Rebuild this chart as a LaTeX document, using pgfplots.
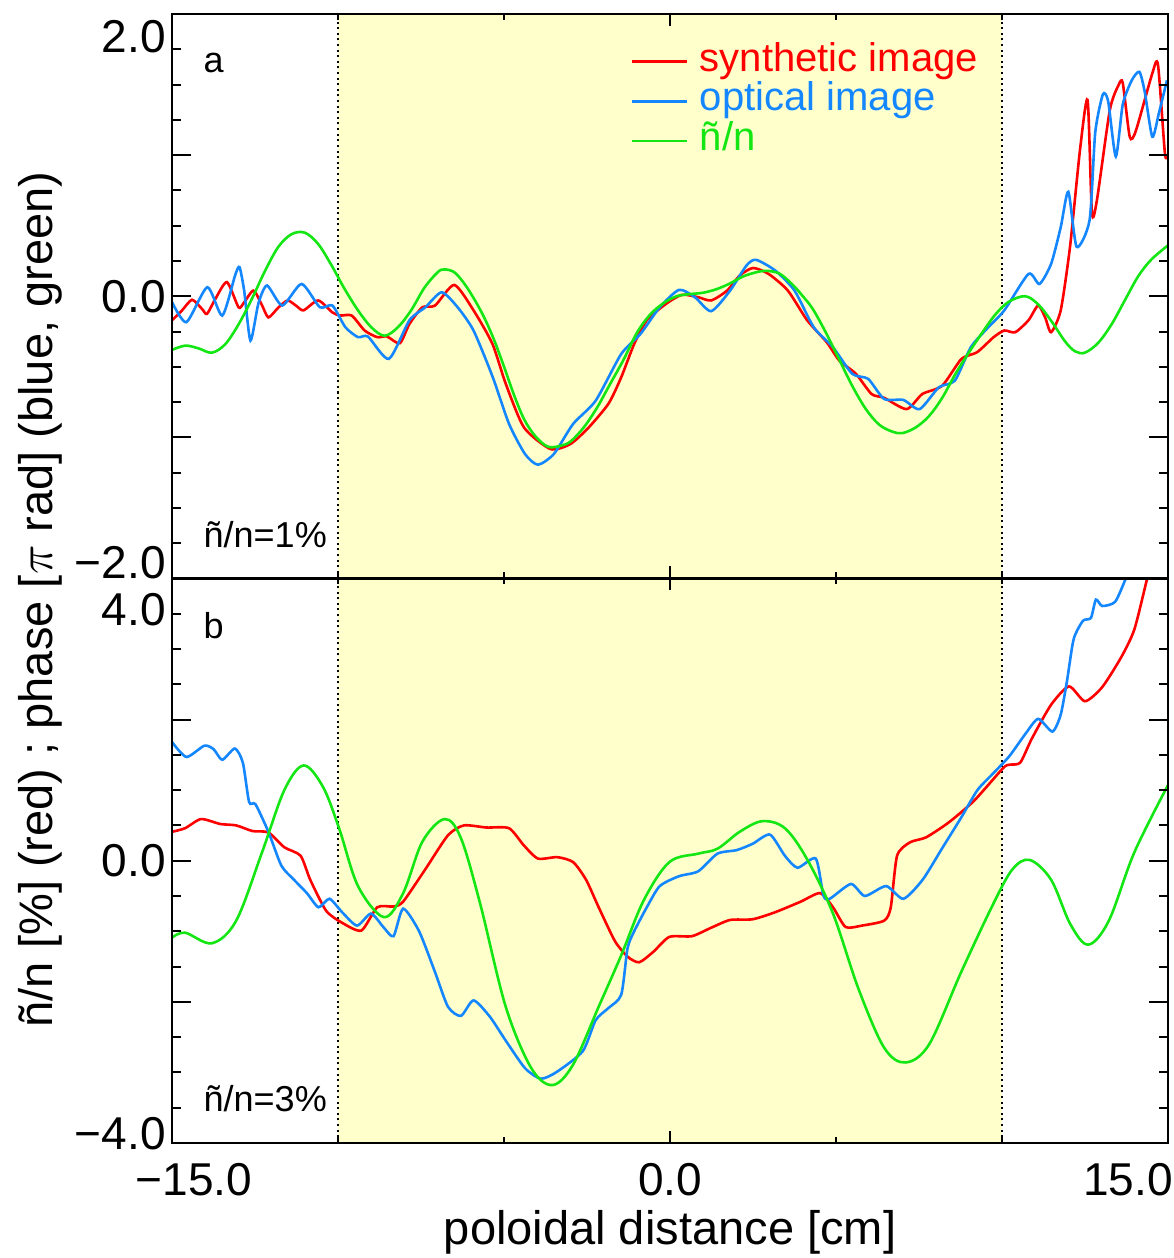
\documentclass[border=0pt]{standalone}
\usepackage{fontspec}
\setmainfont{Liberation Sans}
\usepackage{pgfplots}
\pgfplotsset{compat=1.18}
\definecolor{cred}{RGB}{255,0,0}
\definecolor{cblue}{RGB}{20,135,255}
\definecolor{cgreen}{RGB}{20,230,20}
\definecolor{shade}{RGB}{255,255,204}
\newcommand{\tickfont}{\fontsize{23}{23}\selectfont}
\newcommand{\labfont}{\fontsize{23.5}{28}\selectfont}
\newcommand{\panfont}{\fontsize{18}{20}\selectfont}
\pgfplotsset{
  panel/.style={
    scale only axis, width=497.5pt, height=282pt,
    xmin=-15, xmax=15,
    axis on top,
    axis line style={line width=1.2pt},
    tick align=inside,
    tick style={line width=1pt, black},
    xtick={-15,0,15}, minor xtick={-10,-5,5,10},
    xtick style={/pgfplots/major tick length=6pt,/pgfplots/minor tick length=3pt},
    ytick style={/pgfplots/major tick length=9.5pt,/pgfplots/minor tick length=4.5pt},
    yticklabel style={font=\tickfont, inner sep=0pt, xshift=-3pt},
    xticklabel style={font=\tickfont, inner sep=0pt, yshift=-10pt},
  },
  curve/.style={line width=1.3pt, smooth, tension=0.4},
  gcurve/.style={line width=1.3pt, smooth, tension=0.55},
}
\begin{document}
\begin{tikzpicture}
%---------------- panel a
\begin{axis}[panel, name=top, at={(0,282pt)}, anchor=south west,
  ymin=-2, ymax=2, ytick={-2,-1,0,1,2},
  yticklabels={\raisebox{8pt}[\height][\depth]{−2.0},,0.0,,\raisebox{-11.5pt}[\height][\depth]{2.0}},
  minor ytick={-1.75,-1.5,-1.25,-0.75,-0.5,-0.25,0.25,0.5,0.75,1.25,1.5,1.75},
  xticklabels={},
  legend style={at={(0.461,0.9504)}, anchor=north west, draw=none, fill=none,
    inner sep=0pt, outer sep=0pt, row sep=0pt,
    nodes={inner sep=0pt, text height=14.5pt, text depth=5.25pt},
    /tikz/every odd column/.append style={column sep=6pt},
    font=\fontsize{20}{20}\selectfont},
  legend cell align=left,
  legend image code/.code={\draw[#1, line width=1.3pt] (0pt,0pt) -- (27pt,0pt);},
]
\addplot[draw=none, fill=shade, forget plot] coordinates {(-10,-2) (10,-2) (10,2) (-10,2)} -- cycle;
\addplot[black, line width=0.9pt, dash pattern=on 1pt off 1.8pt, forget plot] coordinates {(-10,-2) (-10,2)};
\addplot[black, line width=0.9pt, dash pattern=on 1pt off 1.8pt, forget plot] coordinates {(10,-2) (10,2)};
% synthetic image (red)
\addplot[cred, curve] coordinates {
(-15.0,-0.17) (-14.7,-0.10) (-14.4,-0.025) (-14.1,-0.09) (-13.95,-0.125) (-13.7,-0.02)
(-13.35,0.10) (-13.0,-0.078) (-12.85,-0.05) (-12.55,0.04) (-12.3,-0.06) (-12.1,-0.15)
(-11.8,-0.08) (-11.52,-0.03) (-11.25,-0.07) (-11.04,-0.10) (-10.6,-0.03) (-10.17,-0.115)
(-9.94,-0.137) (-9.59,-0.137) (-9.2,-0.243) (-8.82,-0.29) (-8.53,-0.285) (-8.14,-0.333)
(-7.85,-0.196) (-7.46,-0.078) (-7.08,-0.066) (-6.5,0.08) (-5.92,-0.10) (-5.35,-0.338)
(-4.95,-0.62) (-4.4,-0.93) (-3.6,-1.083) (-3.0,-1.047) (-2.45,-0.93) (-1.85,-0.76)
(-1.47,-0.574) (-1.08,-0.338) (-0.7,-0.17) (-0.12,-0.054) (0.36,0.01) (0.85,-0.007)
(1.24,-0.03) (1.72,0.04) (2.1,0.147) (2.5,0.20) (2.97,0.158) (3.55,0.04) (4.13,-0.17)
(4.72,-0.326) (5.1,-0.456) (5.6,-0.55) (6.07,-0.693) (6.45,-0.72) (7.13,-0.80) (7.6,-0.693)
(8.2,-0.634) (8.78,-0.444) (9.25,-0.397) (9.75,-0.29) (10.07,-0.243) (10.4,-0.255)
(10.8,-0.17) (11.09,-0.066) (11.3,-0.15) (11.48,-0.255) (11.77,-0.10) (12.05,0.35)
(12.35,1.035) (12.58,1.39) (12.71,0.59) (12.86,0.68) (13.25,1.32) (13.52,1.50) (13.64,1.51)
(13.85,1.13) (14.03,1.17) (14.53,1.58) (14.70,1.64) (14.91,1.01) (15.0,1.0)};
% optical image (blue)
\addplot[cblue, curve] coordinates {
(-15,-0.043) (-14.57,-0.184) (-13.94,0.064) (-13.49,-0.137) (-13.1,0.15) (-12.97,0.206)
(-12.83,0.04) (-12.64,-0.314) (-12.4,-0.05) (-12.14,0.076) (-11.68,-0.066) (-11.10,0.087)
(-10.55,-0.078) (-10.17,-0.066) (-9.78,-0.22) (-9.40,-0.29) (-9.1,-0.286) (-8.47,-0.444)
(-7.85,-0.17) (-7.37,-0.078) (-6.88,0.028) (-6.40,-0.078) (-5.92,-0.243) (-5.34,-0.574)
(-4.85,-0.905) (-4.37,-1.118) (-3.98,-1.194) (-3.50,-1.118) (-2.92,-0.905) (-2.24,-0.74)
(-1.47,-0.409) (-0.89,-0.267) (-0.31,-0.078) (0.27,0.045) (0.75,-0.007) (1.24,-0.106)
(1.81,0.04) (2.30,0.217) (2.59,0.258) (3.17,0.182) (3.75,0.04) (4.33,-0.22) (4.91,-0.362)
(5.49,-0.55) (5.97,-0.586) (6.45,-0.728) (7.03,-0.735) (7.52,-0.80) (8.10,-0.645)
(8.58,-0.598) (9.06,-0.362) (9.54,-0.232) (10.07,-0.10) (10.80,0.158) (11.13,0.087)
(11.48,0.229) (11.77,0.489) (12.0,0.74) (12.25,0.35) (12.64,0.54) (12.81,1.16) (13.04,1.43)
(13.2,1.38) (13.43,0.99) (13.64,1.36) (13.91,1.53) (14.14,1.59) (14.3,1.45) (14.53,1.13)
(14.73,1.30) (14.97,1.53)};
% n~/n (green)
\addplot[cgreen, gcurve] coordinates {
(-15.0,-0.38) (-14.6,-0.35) (-14.2,-0.37) (-13.8,-0.40) (-13.4,-0.34) (-13.0,-0.20)
(-12.6,-0.02) (-12.2,0.18) (-11.8,0.35) (-11.4,0.44) (-11.0,0.45) (-10.6,0.37) (-10.2,0.22)
(-9.8,0.05) (-9.4,-0.10) (-9.0,-0.22) (-8.6,-0.28) (-8.2,-0.22) (-7.8,-0.10) (-7.4,0.06)
(-7.0,0.17) (-6.8,0.19) (-6.5,0.17) (-6.2,0.09) (-5.9,-0.02) (-5.6,-0.15) (-5.3,-0.31)
(-5.0,-0.50) (-4.7,-0.70) (-4.4,-0.87) (-4.1,-0.98) (-3.8,-1.05) (-3.6,-1.07) (-3.3,-1.06)
(-3.0,-1.03) (-2.6,-0.93) (-2.2,-0.79) (-1.8,-0.62) (-1.4,-0.45) (-1.0,-0.26) (-0.6,-0.13)
(-0.2,-0.05) (0.2,0.00) (0.6,0.015) (1.0,0.025) (1.4,0.05) (1.8,0.09) (2.2,0.14) (2.6,0.17)
(2.9,0.18) (3.3,0.16) (3.7,0.08) (4.0,0.00) (4.3,-0.09) (4.7,-0.26) (5.1,-0.45) (5.5,-0.64)
(5.9,-0.80) (6.3,-0.91) (6.7,-0.96) (7.0,-0.97) (7.4,-0.93) (7.8,-0.85) (8.2,-0.72)
(8.6,-0.55) (9.0,-0.40) (9.4,-0.26) (9.8,-0.13) (10.2,-0.04) (10.7,0.00) (11.1,-0.06)
(11.5,-0.18) (11.9,-0.32) (12.2,-0.39) (12.5,-0.40) (12.9,-0.33) (13.3,-0.20) (13.7,-0.03)
(14.1,0.14) (14.5,0.26) (15.0,0.36)};
\legend{\textcolor{cred}{synthetic image},\textcolor{cblue}{optical image},\textcolor{cgreen}{ñ/n}}
\node[anchor=base west, inner sep=0pt, font=\panfont] at (rel axis cs:0.0312,0.897) {a};
\node[anchor=base west, inner sep=0pt, font=\panfont] at (rel axis cs:0.0312,0.055) {ñ/n=1\%};
\end{axis}
%---------------- panel b
\begin{axis}[panel, name=bot, at={(0,0)}, anchor=south west,
  ymin=-4, ymax=4, ytick={-4,-2,0,2,4},
  yticklabels={\raisebox{4.5pt}[\height][\depth]{−4.0},,0.0,,\raisebox{-15.5pt}[\height][\depth]{4.0}},
  minor ytick={-3.5,-3,-2.5,-1.5,-1,-0.5,0.5,1,1.5,2.5,3,3.5},
  xticklabels={\hspace*{22pt}−15.0,0.0,15.0\hspace*{40pt}},
  xlabel={poloidal distance [cm]},
  xlabel style={font=\labfont, at={(axis description cs:0.5,0)}, anchor=base, yshift=-51pt, inner sep=0pt},
]
\addplot[draw=none, fill=shade, forget plot] coordinates {(-10,-4) (10,-4) (10,4) (-10,4)} -- cycle;
\addplot[black, line width=0.9pt, dash pattern=on 1pt off 1.8pt, forget plot] coordinates {(-10,-4) (-10,4)};
\addplot[black, line width=0.9pt, dash pattern=on 1pt off 1.8pt, forget plot] coordinates {(10,-4) (10,4)};
% red
\addplot[cred, curve] coordinates {
(-15,0.41) (-14.61,0.46) (-14.13,0.59) (-13.55,0.52) (-13.07,0.50) (-12.58,0.42) (-12.10,0.40)
(-11.62,0.19) (-11.13,0.07) (-10.84,-0.27) (-10.36,-0.71) (-9.88,-0.88) (-9.30,-0.99)
(-8.82,-0.66) (-8.33,-0.65) (-8.04,-0.58) (-7.37,-0.12) (-6.69,0.36) (-6.21,0.50) (-5.53,0.47)
(-4.85,0.46) (-4.41,0.22) (-3.98,0.03) (-3.40,0.05) (-2.92,-0.02) (-2.53,-0.27) (-2.15,-0.66)
(-1.66,-1.14) (-1.28,-1.36) (-0.93,-1.44) (-0.50,-1.29) (-0.02,-1.08) (0.66,-1.07)
(1.24,-0.95) (1.81,-0.84) (2.49,-0.83) (3.17,-0.73) (3.94,-0.58) (4.52,-0.46) (4.91,-0.66)
(5.29,-0.94) (5.78,-0.92) (6.45,-0.85) (6.65,-0.66) (6.84,0.07) (7.23,0.26) (7.71,0.33)
(8.39,0.54) (9.16,0.85) (10.03,1.31) (10.22,1.36) (10.55,1.39) (10.90,1.73) (11.48,2.21)
(12.02,2.47) (12.50,2.26) (13.02,2.46) (13.60,2.89) (13.99,3.28) (14.38,4.01) (14.7,4.6)
(15,5.0)};
% blue
\addplot[cblue, curve] coordinates {
(-15,1.68) (-14.57,1.47) (-14.03,1.63) (-13.75,1.58) (-13.49,1.43) (-13.11,1.59) (-12.87,1.39)
(-12.68,0.83) (-12.49,0.80) (-12.10,0.41) (-11.71,-0.07) (-11.33,-0.27) (-10.94,-0.46)
(-10.59,-0.66) (-10.26,-0.54) (-9.88,-0.73) (-9.43,-0.92) (-9.01,-0.75) (-8.62,-0.95)
(-8.33,-1.07) (-8.04,-0.68) (-7.56,-1.00) (-7.08,-1.58) (-6.69,-2.07) (-6.30,-2.20)
(-5.92,-1.98) (-5.43,-2.21) (-4.95,-2.55) (-4.37,-2.94) (-3.89,-3.09) (-3.40,-2.99)
(-2.63,-2.70) (-2.24,-2.26) (-1.86,-2.09) (-1.47,-1.90) (-1.28,-1.24) (-1.08,-1.00)
(-0.70,-0.66) (-0.31,-0.36) (0.27,-0.22) (0.85,-0.15) (1.43,0.10) (2.01,0.15) (2.49,0.24)
(3.01,0.37) (3.46,0.07) (3.84,-0.10) (4.39,0.03) (4.62,-0.49) (4.81,-0.54) (5.45,-0.33)
(5.87,-0.50) (6.51,-0.36) (7.03,-0.54) (7.61,-0.27) (8.19,0.17) (8.77,0.61) (9.26,1.00)
(9.74,1.24) (10.22,1.48) (10.71,1.80) (11.09,2.01) (11.52,1.83) (11.77,2.07) (11.96,2.55)
(12.16,3.14) (12.44,3.40) (12.68,3.44) (12.83,3.70) (13.02,3.61) (13.41,3.67) (13.74,4.01)
(14.0,4.3) (14.5,4.6) (15,4.8)};
% green
\addplot[cgreen, gcurve] coordinates {
(-15,-1.09) (-14.61,-1.02) (-13.80,-1.17) (-13.07,-0.85) (-12.29,0.12) (-11.62,1.0)
(-11.04,1.35) (-10.46,1.05) (-9.97,0.46) (-9.40,-0.36) (-8.62,-0.80) (-8.04,-0.46)
(-7.46,0.27) (-6.79,0.59) (-6.30,0.32) (-5.72,-0.61) (-4.95,-2.07) (-4.18,-2.94)
(-3.54,-3.18) (-2.92,-2.89) (-2.15,-2.07) (-1.47,-1.34) (-0.79,-0.56) (-0.02,-0.02)
(0.85,0.10) (1.43,0.17) (2.10,0.41) (2.78,0.56) (3.46,0.46) (4.13,0.02) (4.91,-0.75)
(5.68,-1.82) (6.45,-2.65) (7.09,-2.86) (7.81,-2.60) (8.77,-1.58) (9.74,-0.61) (10.32,-0.12)
(10.84,0.01) (11.48,-0.27) (12.06,-0.90) (12.60,-1.19) (13.22,-0.85) (13.99,0.12)
(15.0,1.07)};
\node[anchor=base west, inner sep=0pt, font=\panfont] at (rel axis cs:0.0312,0.8936) {b};
\node[anchor=base west, inner sep=0pt, font=\panfont] at (rel axis cs:0.0312,0.055) {ñ/n=3\%};
\end{axis}
\node[rotate=90, anchor=base, inner sep=0pt, font=\labfont] at (-60pt,271.5pt)
  {ñ/n [\%] (red) ; phase [$\pi$ rad] (blue, green)};
\pgfresetboundingbox
\path[use as bounding box] (-86pt,-57.5pt) rectangle (500.5pt,571pt);
\end{tikzpicture}
\end{document}
